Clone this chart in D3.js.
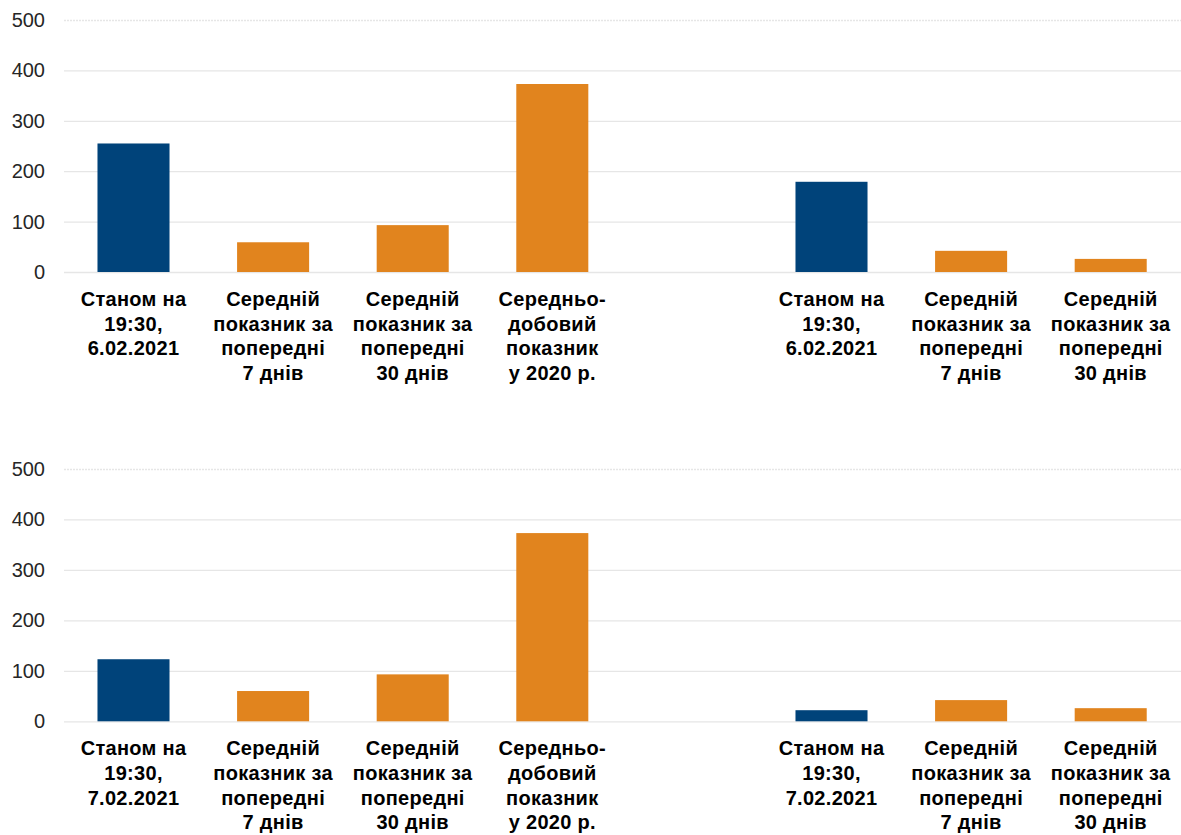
<!DOCTYPE html>
<html>
<head>
<meta charset="utf-8">
<script src="https://cdn.jsdelivr.net/npm/d3@7"></script>
<style>
  body { margin: 0; background: #fff; }
  svg { display: block; }
</style>
</head>
<body>
<svg id="chart"></svg>
<script>
// values
var ticks = [0, 100, 200, 300, 400, 500];

var labels6 = [
    ["Станом на", "19:30,", "6.02.2021"],
    ["Середній", "показник за", "попередні", "7 днів"],
    ["Середній", "показник за", "попередні", "30 днів"],
    ["Середньо-", "добовий", "показник", "у 2020 р."]
];
var labels6Right = [
    ["Станом на", "19:30,", "6.02.2021"],
    ["Середній", "показник за", "попередні", "7 днів"],
    ["Середній", "показник за", "попередні", "30 днів"]
];
var labels7 = [
    ["Станом на", "19:30,", "7.02.2021"],
    ["Середній", "показник за", "попередні", "7 днів"],
    ["Середній", "показник за", "попередні", "30 днів"],
    ["Середньо-", "добовий", "показник", "у 2020 р."]
];
var labels7Right = [
    ["Станом на", "19:30,", "7.02.2021"],
    ["Середній", "показник за", "попередні", "7 днів"],
    ["Середній", "показник за", "попередні", "30 днів"]
];

var values6 = [255, 59, 93, 373];
var values6Right = [179, 42, 26];
var values7 = [123, 60, 93, 373];
var values7Right = [22, 42, 26];

var width = 1181, height = 835;
var blue = "#00437a", orange = "#e1841e";

var svg = d3.select("#chart")
    .attr("width", width)
    .attr("height", height)
    .style("font-family", "'Liberation Sans', Arial, sans-serif");

// 8 slots: 4 left bars, one empty slot, 3 right bars
var slots = ["a0", "a1", "a2", "a3", "gap", "b0", "b1", "b2"];
var x = d3.scaleBand()
    .domain(slots)
    .range([63.7, 1180.5])
    .paddingInner(0.484)
    .paddingOuter(0.242);

function drawRow(top, bottom, leftVals, rightVals, leftLabels, rightLabels) {
    var y = d3.scaleLinear().domain([0, 500]).range([bottom, top]);
    var g = svg.append("g");

    var bars = leftVals.map(function (v, i) {
        return {key: "a" + i, value: v, lines: leftLabels[i], first: i == 0};
    }).concat(rightVals.map(function (v, i) {
        return {key: "b" + i, value: v, lines: rightLabels[i], first: i == 0};
    }));

    // gridlines
    var yAxis = d3.axisLeft(y).tickValues(ticks).tickSize(-(width - 64)).tickPadding(19);
    var ax = g.append("g").attr("transform", "translate(64,0)").call(yAxis);
    ax.select(".domain").remove();
    ax.selectAll(".tick line")
        .attr("stroke", "#e6e6e6")
        .attr("stroke-width", 1.3)
        .attr("stroke-dasharray", function (d) { return d == 500 ? "2,1" : null; });
    ax.selectAll(".tick text")
        .attr("fill", "#262626")
        .style("font-size", "20px")
        .style("font-family", "'Liberation Sans', Arial, sans-serif");

    g.selectAll("rect.bar")
        .data(bars)
        .enter().append("rect")
        .attr("class", "bar")
        .attr("x", function (d) { return x(d.key); })
        .attr("width", x.bandwidth())
        .attr("y", function (d) { return y(d.value); })
        .attr("height", function (d) { return y(0) - y(d.value); })
        .attr("fill", function (d) { return d.first ? blue : orange; });

    var lab = g.selectAll("text.cat")
        .data(bars)
        .enter().append("text")
        .attr("class", "cat")
        .attr("text-anchor", "middle")
        .attr("fill", "#000")
        .style("font-size", "20px")
        .style("letter-spacing", "0.3px")
        .style("font-weight", "bold");

    lab.selectAll("tspan")
        .data(function (d) {
            return d.lines.map(function (t, i) { return {t: t, i: i, key: d.key}; });
        })
        .enter().append("tspan")
        .attr("x", function (d) { return x(d.key) + x.bandwidth() / 2; })
        .attr("y", function (d) { return bottom + 34 + d.i * 24.6; })
        .text(function (d) { return d.t; });
}

drawRow(20, 272, values6, values6Right, labels6, labels6Right);
drawRow(469, 721.3, values7, values7Right, labels7, labels7Right);
</script>
</body>
</html>
